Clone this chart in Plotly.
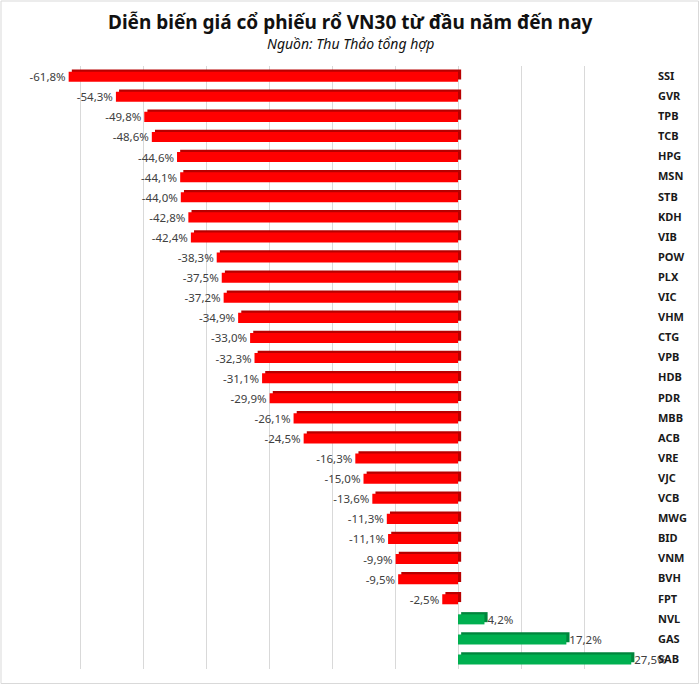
import plotly.graph_objects as go

tickers = ["SSI", "GVR", "TPB", "TCB", "HPG", "MSN", "STB", "KDH", "VIB", "POW",
           "PLX", "VIC", "VHM", "CTG", "VPB", "HDB", "PDR", "MBB", "ACB", "VRE",
           "VJC", "VCB", "MWG", "BID", "VNM", "BVH", "FPT", "NVL", "GAS", "SAB"]
changes = [-61.8, -54.3, -49.8, -48.6, -44.6, -44.1, -44.0, -42.8, -42.4, -38.3,
           -37.5, -37.2, -34.9, -33.0, -32.3, -31.1, -29.9, -26.1, -24.5, -16.3,
           -15.0, -13.6, -11.3, -11.1, -9.9, -9.5, -2.5, 4.2, 17.2, 27.5]

front_colors = ["#ff0000" if v < 0 else "#00b050" for v in changes]
side_colors = ["#b80000" if v < 0 else "#00853c" for v in changes]

W, H = 700, 685
ml, mr, mt, mb = 17, 53, 66, 16
pw = W - ml - mr
ph = H - mt - mb

fig = go.Figure()
# 3D depth face (drawn behind)
fig.add_trace(go.Bar(
    y=tickers, x=changes, base=0.5, orientation="h",
    marker=dict(color=side_colors, line=dict(width=0)),
    width=0.5, offset=-0.33, hoverinfo="skip", showlegend=False,
))
# front face
fig.add_trace(go.Bar(
    y=tickers, x=changes, orientation="h",
    marker=dict(color=front_colors, line=dict(width=0)),
    width=0.5, offset=-0.22,
    texttemplate="%{x:.1f}%", textposition="outside",
    textfont=dict(size=11.5, color="#404040", family="Noto Sans"),
    constraintext="none", cliponaxis=False, showlegend=False,
))

fig.update_layout(
    width=W, height=H,
    margin=dict(l=ml, r=mr, t=mt, b=mb, autoexpand=False),
    paper_bgcolor="white", plot_bgcolor="white",
    barmode="overlay", separators=",.",
    font=dict(family="Noto Sans", color="#222222"),
    xaxis=dict(range=[-70, 30], dtick=10, showticklabels=False,
               showgrid=True, gridcolor="#d9d9d9", gridwidth=1,
               zeroline=True, zerolinecolor="#d9d9d9", zerolinewidth=1,
               showline=False, fixedrange=True),
    yaxis=dict(autorange="reversed", side="right", showgrid=False,
               tickfont=dict(size=11, color="#1a1a1a", family="Noto Sans", weight="bold"),
               ticks="", ticklabelstandoff=10, showline=False, automargin=False),
    annotations=[
        dict(text="<b>Diễn biến giá cổ phiếu rổ VN30 từ đầu năm đến nay</b>",
             xref="paper", yref="paper", x=(350 - ml) / pw, y=1 + (mt - 22) / ph,
             xanchor="center", yanchor="middle", showarrow=False,
             font=dict(size=19, color="#111111", family="Noto Sans")),
        dict(text="<i>Nguồn: Thu Thảo tổng hợp</i>",
             xref="paper", yref="paper", x=(350 - ml) / pw, y=1 + (mt - 44) / ph,
             xanchor="center", yanchor="middle", showarrow=False,
             font=dict(size=14, color="#111111", family="Noto Sans")),
    ],
    shapes=[dict(type="rect", xref="paper", yref="paper",
                 x0=(1 - ml) / pw, x1=(W - 1.5 - ml) / pw,
                 y0=-(mb - 1.5) / ph, y1=1 + (mt - 1) / ph,
                 line=dict(color="#d9d9d9", width=1), layer="below")],
)

fig.write_html("out.html", config={"displayModeBar": False},
               post_script="document.body.style.margin='0';document.body.style.overflow='hidden';")
